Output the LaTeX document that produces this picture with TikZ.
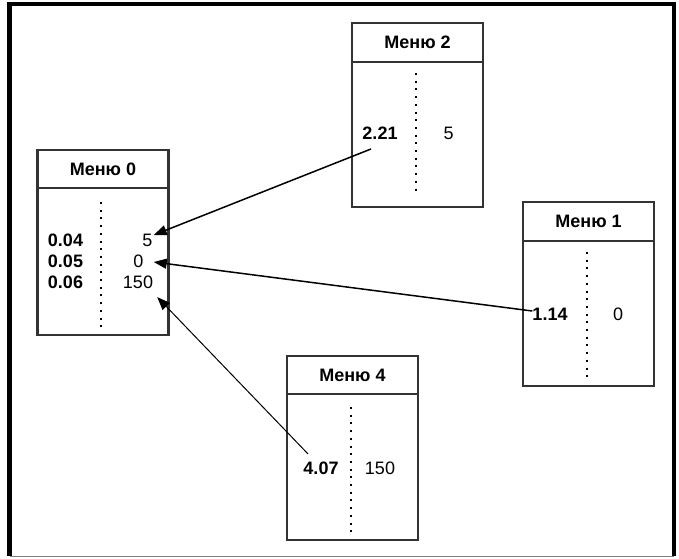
\documentclass[tikz,border=0pt]{standalone}
\usepackage{fontspec}
\setmainfont{Liberation Sans}
\usetikzlibrary{arrows.meta, positioning}
\tikzset{>={Triangle[length=13pt,width=10pt]}}
\definecolor{boxgray}{HTML}{333333}

\begin{document}
\begin{tikzpicture}[x=1pt, y=-1pt, font=\fontsize{18}{20}\selectfont,
    menuhead/.style={draw=boxgray, line width=2.2pt, outer sep=0pt, minimum width=131pt, minimum height=38.5pt, inner sep=0pt, font=\fontsize{18}{20}\selectfont\bfseries},
    menubody/.style={draw=boxgray, line width=2.2pt, outer sep=0pt, minimum width=131pt, inner sep=0pt},
    param/.style={inner sep=0pt, font=\fontsize{18}{20}\selectfont\bfseries},
    val/.style={inner sep=0pt},
    dotline/.style={line width=2.6pt, dash pattern=on 2pt off 5.7pt},
    link/.style={->, line width=1.5pt}]
    \useasboundingbox (0,0) rectangle (679,558);

    % frame
    \draw[line width=4.5pt] (9.5,556) -- (9.5,4) -- (674,4) -- (674,556);
    \draw[gray, line width=1.5pt] (9.5,556.5) -- (674,556.5);

    % menu 0
    \node[menuhead] (h0) at (103,169) {Меню 0};
    \node[menubody, minimum height=147pt, below=0pt of h0] (b0) {};
    \draw[dotline] (101,202) -- (101,327);
    \node[param] (p004) at (65.5,240) {0.04};
    \node[param] (p005) at (65.5,261) {0.05};
    \node[param] (p006) at (65.5,282) {0.06};
    \node[val] (v004) at (147.5,240) {5};
    \node[val] (v005) at (138.5,261) {0};
    \node[val] (v006) at (138,282) {150};

    % menu 2
    \node[menuhead] (h2) at (417.5,42.5) {Меню 2};
    \node[menubody, minimum height=145pt, below=0pt of h2] (b2) {};
    \draw[dotline] (416,73) -- (416,194);
    \node[param] (p221) at (380,133.5) {2.21};
    \node[val] (v221) at (448.5,133.5) {5};

    % menu 1
    \node[menuhead] (h1) at (588.5,221.5) {Меню 1};
    \node[menubody, minimum height=145pt, below=0pt of h1] (b1) {};
    \draw[dotline] (587,252) -- (587,378);
    \node[param] (p114) at (550,314.5) {1.14};
    \node[val] (v114) at (618,314.5) {0};

    % menu 4
    \node[menuhead] (h4) at (352.5,375) {Меню 4};
    \node[menubody, minimum height=146pt, below=0pt of h4] (b4) {};
    \draw[dotline] (351,407) -- (351,534);
    \node[param] (p407) at (321,468.5) {4.07};
    \node[val] (v407) at (380,468.5) {150};

    % links
    \draw[link] ([xshift=-9pt,yshift=-9pt]p221.south) -- ([xshift=1pt,yshift=-1.5pt]v004.north east);
    \draw[link] ([yshift=3.5pt]p114.west) -- ([xshift=10pt,yshift=-1pt]v005.east);
    \draw[link, line width=1pt] ([xshift=-13pt,yshift=8pt]p407.north) -- ([xshift=4pt,yshift=-8.5pt]v006.south east);
\end{tikzpicture}
\end{document}
